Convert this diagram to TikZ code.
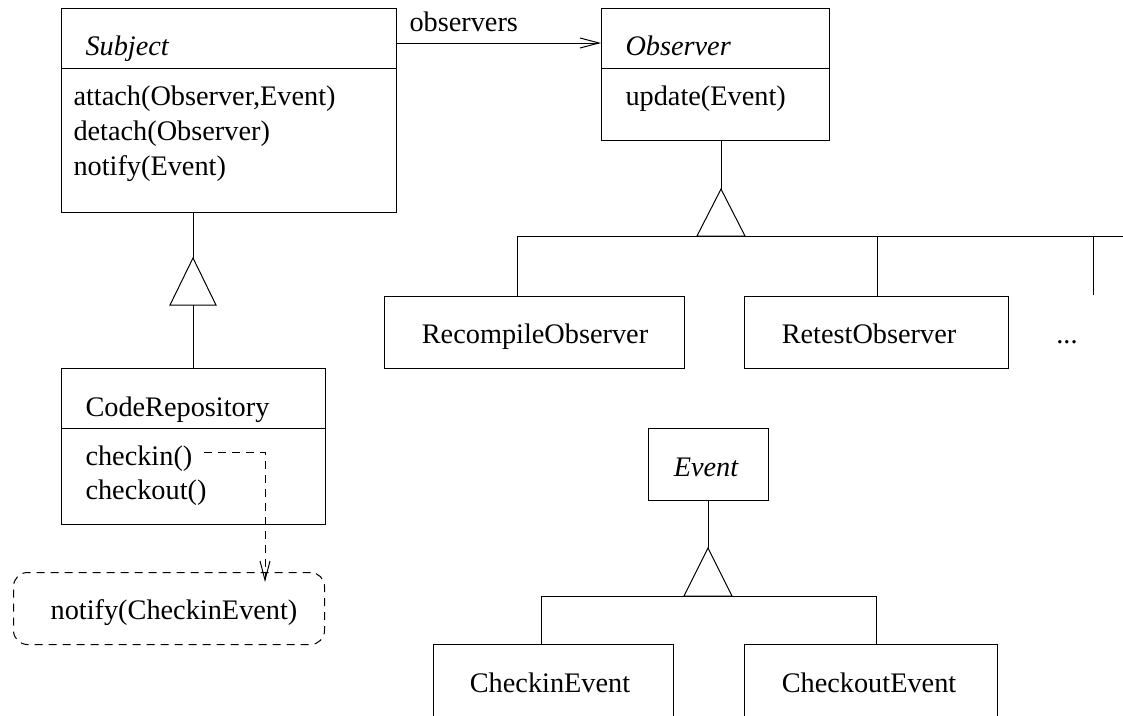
\documentclass[tikz,border=0pt]{standalone}
\usepackage{fontspec}
\setmainfont{Liberation Serif}
\usetikzlibrary{arrows.meta}
\begin{document}
\begin{tikzpicture}[x=1pt,y=-1pt,line width=1pt,
  box/.style={draw,rectangle,inner sep=0pt,anchor=north west},
  txt/.style={inner sep=0pt,font=\fontsize{28.3}{34}\selectfont},
  lbl/.style={txt,anchor=base west},
  clbl/.style={txt,anchor=base},
  ital/.style={font=\fontsize{28.3}{34}\selectfont\itshape},
  barb/.style={-{Straight Barb[length=19pt,width=10pt,line width=1pt]}},
  dsh/.style={dash pattern=on 8pt off 6pt}]
\useasboundingbox (0,0) rectangle (1123,715);
\clip (0,0) rectangle (1123,715);
% Subject
\node[box,minimum width=335pt,minimum height=204pt] (subj) at (61,8) {};
\draw ([yshift=-60pt]subj.north west) -- ([yshift=-60pt]subj.north east);
\node[lbl,ital] (subjn) at (85,55) {Subject};
\node[lbl] (m1) at (73,105) {attach(Observer,Event)};
\node[lbl] (m2) at (73,140) {detach(Observer)};
\node[lbl] (m3) at (73,175) {notify(Event)};
% Observer
\node[box,minimum width=228pt,minimum height=132pt] (obs) at (601,8) {};
\draw ([yshift=-60pt]obs.north west) -- ([yshift=-60pt]obs.north east);
\node[lbl,ital] (obsn) at (625,55) {Observer};
\node[lbl] (o1) at (625,105) {update(Event)};
% association
\coordinate (aS) at (396,43);
\draw[barb] (subj.east |- aS) -- (obs.west |- aS);
\node[lbl] (obsl) at (409,31) {observers};
% CodeRepository
\node[box,minimum width=264pt,minimum height=156pt] (code) at (61,368) {};
\draw ([yshift=-60pt]code.north west) -- ([yshift=-60pt]code.north east);
\node[lbl] (coden) at (85,416) {CodeRepository};
\node[lbl] (c1) at (85,465) {checkin()};
\node[lbl] (c2) at (85,499) {checkout()};
% Subject generalization
\coordinate (t1) at (193,258);
\draw (subj.south -| t1) -- (t1);
\draw (t1) -- (170,305) -- (216,305) -- cycle;
\draw (193,305) -- (code.north -| t1);
% note
\node[box,dsh,rounded corners=14pt,minimum width=311pt,minimum height=72pt] (note) at (13,572) {};
\node[clbl] (noten) at (174,619) {notify(CheckinEvent)};
\coordinate (d1) at (204,452);
\coordinate (d2) at (265,452);
\draw[dsh,barb] (d1) -- (d2) -- ([yshift=-10pt]note.north -| d2);
% Observer subclasses
\node[box,minimum width=300pt,minimum height=72pt] (rec) at (384,296) {};
\node[clbl] (recn) at (535,343) {RecompileObserver};
\node[box,minimum width=264pt,minimum height=72pt] (ret) at (744,296) {};
\node[clbl] (retn) at (869,343) {RetestObserver};
\node[clbl] (dots) at (1067,343) {...};
\coordinate (t2) at (721,189);
\draw (obs.south -| t2) -- (t2);
\draw (t2) -- (697,236) -- (745,236) -- cycle;
\coordinate (h2) at (517,236);
\coordinate (e2) at (1123,236);
\draw (rec.north -| h2) -- (h2) -- (e2);
\draw (ret.north -| 877,0) -- (877,236);
\coordinate (x2) at (1093,295);
\draw (x2) -- (x2 |- h2);
% Event
\node[box,minimum width=120pt,minimum height=72pt] (ev) at (648,428) {};
\node[clbl,ital] (evn) at (706,476) {Event};
\node[box,minimum width=240pt,minimum height=100pt] (cin) at (433,644) {};
\node[clbl] (cinn) at (550,692) {CheckinEvent};
\node[box,minimum width=253pt,minimum height=100pt] (cout) at (744,644) {};
\node[clbl] (coutn) at (869,692) {CheckoutEvent};
\coordinate (t3) at (708,548);
\draw (ev.south -| t3) -- (t3);
\draw (t3) -- (684,596) -- (732,596) -- cycle;
\coordinate (h3) at (541,596);
\coordinate (k3) at (876,596);
\draw (cin.north -| h3) -- (h3) -- (k3) -- (cout.north -| k3);
\end{tikzpicture}
\end{document}
